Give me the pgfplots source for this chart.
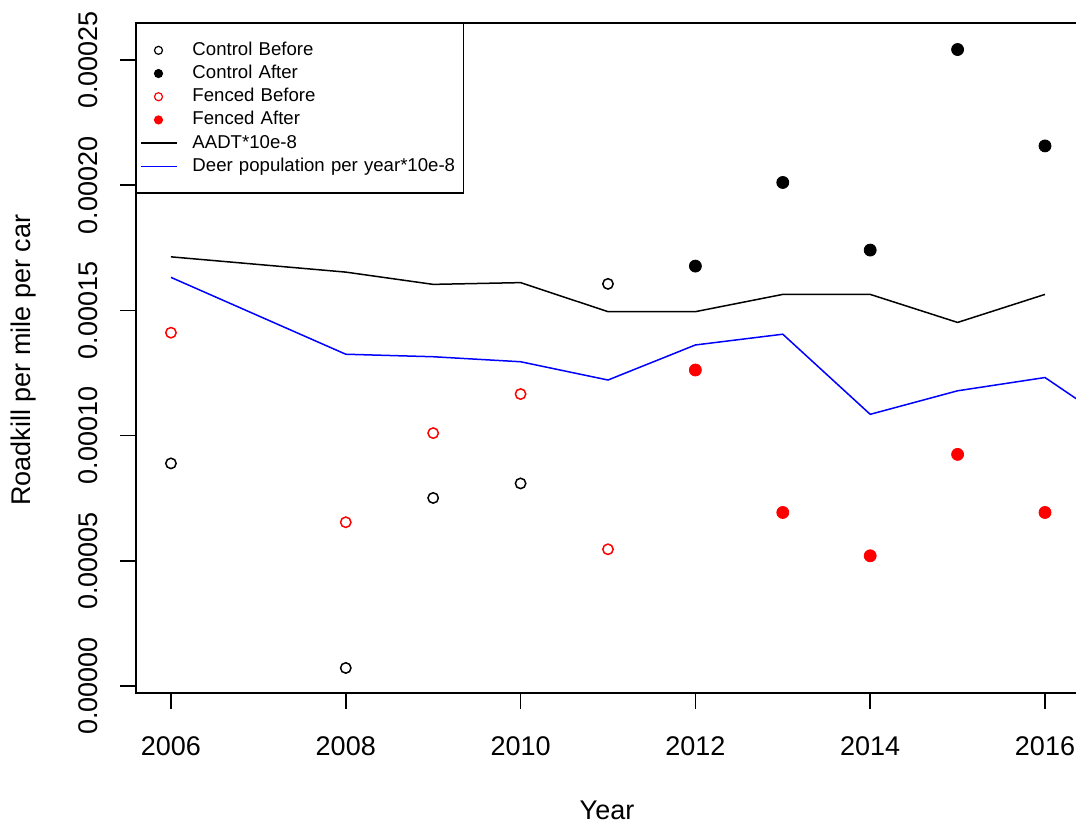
\documentclass[border=0pt]{standalone}
\usepackage{pgfplots}
\pgfplotsset{compat=1.18}
\usepackage{fontspec}
\setmainfont{Liberation Sans}
\definecolor{rred}{RGB}{255,0,0}
\definecolor{rblue}{RGB}{0,0,255}
\begin{document}
\begin{tikzpicture}
\begin{axis}[name=ax, scale only axis, width=476.35pt, height=335pt,
 xmin=2005.6, xmax=2016.5, ymin=-0.0000028, ymax=0.0002648,
 xtick={2006,2008,2010,2012,2014,2016},
 xticklabels={2006,2008,2010,2012,2014,2016},
 ytick={0,0.00005,0.0001,0.00015,0.0002,0.00025},
 yticklabels={0.00000,0.00005,0.00010,0.00015,0.00020,0.00025},
 scaled y ticks=false,
 tick pos=left, tick align=outside, major tick length=8pt,
 every tick/.style={black, line width=0.75pt},
 axis line style={line width=0.75pt},
 ticklabel style={font=\fontsize{13.5}{16}\selectfont},
 yticklabel style={rotate=90, anchor=south, yshift=7.5pt},
 xticklabel style={yshift=-10.5pt},
 xlabel={Year}, ylabel={Roadkill per mile per car},
 label style={font=\fontsize{13.5}{16}\selectfont},
 xlabel style={at={(axis description cs:0.4944,-0.1746)}, anchor=center},
 ylabel style={at={(axis description cs:-0.1176,0.497)}, anchor=center},
 legend cell align=left,
 legend style={at={(0,1)}, anchor=north west, draw=black, line width=0.75pt,
   font=\fontsize{9.3}{11}\selectfont, inner xsep=2pt, inner ysep=7.5pt,
   row sep=0pt, nodes={text height=7pt, text depth=2pt, inner ysep=1.3pt, inner xsep=1.5pt, text width=132pt}},
]
\addplot[forget plot, only marks, mark=o, mark size=2.6pt, black, mark options={line width=0.75pt}]
  coordinates {(2006,8.89e-5) (2008,7.2e-6) (2009,7.51e-5) (2010,8.09e-5) (2011,1.606e-4)};
\addplot[forget plot, only marks, mark=*, mark size=3pt, black, mark options={fill=black, draw=black}]
  coordinates {(2012,1.677e-4) (2013,2.011e-4) (2014,1.741e-4) (2015,2.542e-4) (2016,2.157e-4)};
\addplot[forget plot, only marks, mark=o, mark size=2.6pt, rred, mark options={line width=0.75pt}]
  coordinates {(2006,1.411e-4) (2008,6.54e-5) (2009,1.010e-4) (2010,1.166e-4) (2011,5.46e-5)};
\addplot[forget plot, only marks, mark=*, mark size=3pt, rred, mark options={fill=rred, draw=rred}]
  coordinates {(2012,1.262e-4) (2013,6.93e-5) (2014,5.20e-5) (2015,9.25e-5) (2016,6.93e-5)};
\addplot[forget plot, black, line width=0.75pt, no markers]
  coordinates {(2006,1.714e-4) (2008,1.653e-4) (2009,1.604e-4) (2010,1.611e-4) (2011,1.495e-4) (2012,1.495e-4) (2013,1.564e-4) (2014,1.564e-4) (2015,1.452e-4) (2016,1.564e-4)};
\addplot[forget plot, rblue, line width=0.75pt, no markers]
  coordinates {(2006,1.632e-4) (2008,1.325e-4) (2009,1.315e-4) (2010,1.295e-4) (2011,1.222e-4) (2012,1.362e-4) (2013,1.405e-4) (2014,1.085e-4) (2015,1.179e-4) (2016,1.232e-4) (2017,9.95e-5)};
\addlegendimage{legend image code/.code={\draw[black, line width=0.6pt, fill=none] (8.5pt,0pt) circle (2pt); \path[draw=none, fill=none] (0pt,0pt) -- (24pt,0pt);}}
\addlegendentry{Control Before}
\addlegendimage{legend image code/.code={\fill[black, draw=none] (8.5pt,0pt) circle (2.3pt); \path[draw=none, fill=none] (0pt,0pt) -- (24pt,0pt);}}
\addlegendentry{Control After}
\addlegendimage{legend image code/.code={\draw[rred, line width=0.6pt, fill=none] (8.5pt,0pt) circle (2pt); \path[draw=none, fill=none] (0pt,0pt) -- (24pt,0pt);}}
\addlegendentry{Fenced Before}
\addlegendimage{legend image code/.code={\fill[rred, draw=none] (8.5pt,0pt) circle (2.3pt); \path[draw=none, fill=none] (0pt,0pt) -- (24pt,0pt);}}
\addlegendentry{Fenced After}
\addlegendimage{legend image code/.code={\draw[black, line width=0.75pt] (0pt,0pt) -- (18pt,0pt); \path[draw=none, fill=none] (0pt,0pt) -- (24pt,0pt);}}
\addlegendentry{AADT*10e-8}
\addlegendimage{legend image code/.code={\draw[rblue, line width=0.75pt] (0pt,0pt) -- (18pt,0pt); \path[draw=none, fill=none] (0pt,0pt) -- (24pt,0pt);}}
\addlegendentry{Deer population per year*10e-8}
\end{axis}
\pgfresetboundingbox
\path[use as bounding box] ([xshift=-68pt,yshift=-65pt]ax.south west) rectangle ([xshift=470pt,yshift=11.5pt]ax.north west);
\end{tikzpicture}
\end{document}
